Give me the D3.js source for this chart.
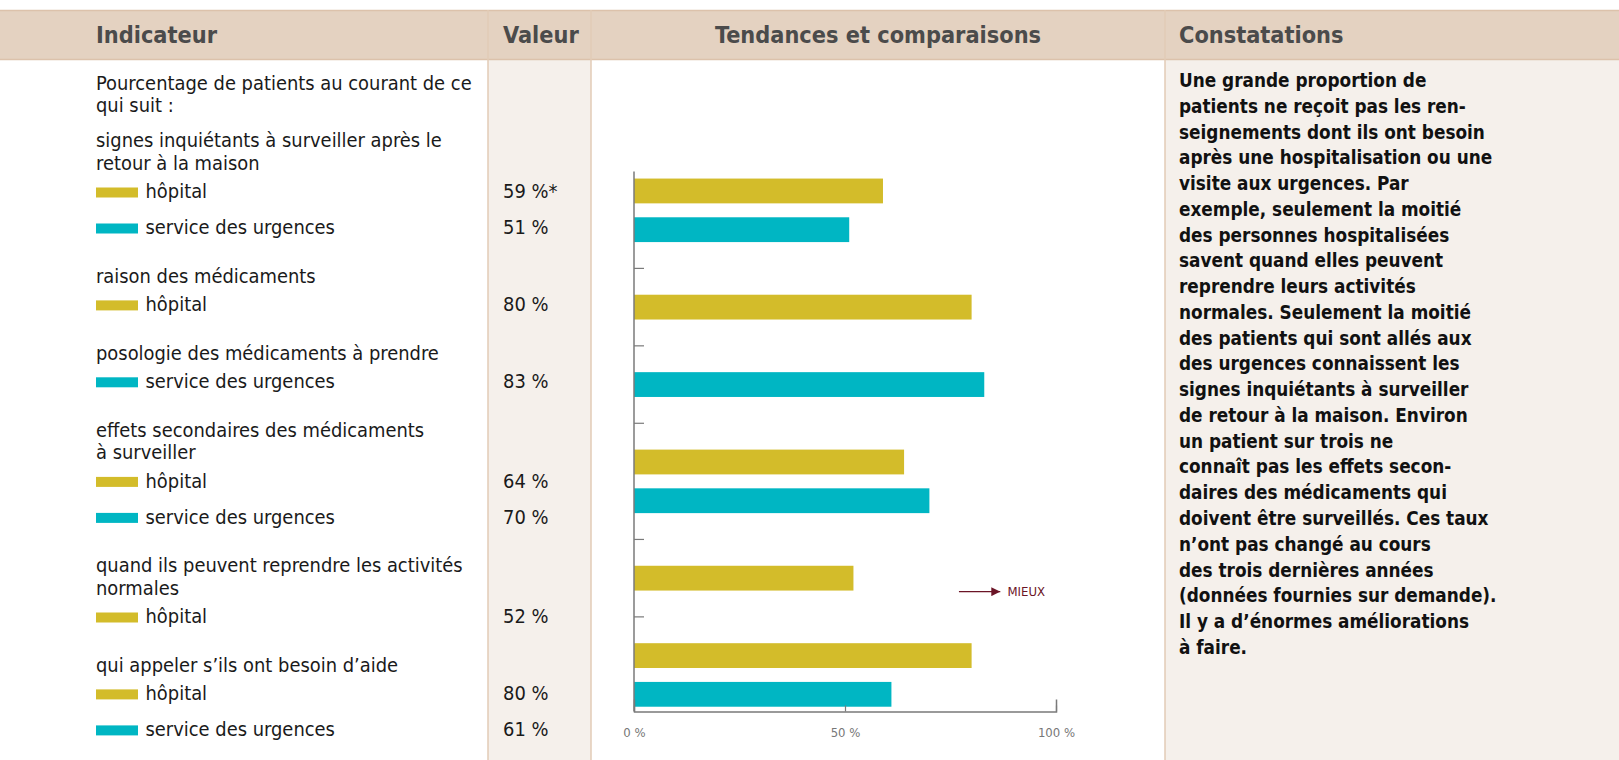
<!DOCTYPE html>
<html>
<head>
<meta charset="utf-8">
<script src="https://cdn.jsdelivr.net/npm/d3@7"></script>
<style>
  body { margin: 0; background: #fff; }
  svg { display: block; }
  text { font-family: "Liberation Sans Narrow", "DejaVu Sans Condensed", "Roboto", sans-serif; }
</style>
</head>
<body>
<svg id="chart" width="1619" height="760"></svg>
<script>
// données
const intro = ["Pourcentage de patients au courant de ce", "qui suit :"];
const indicateurs = [
  ["signes inquiétants à surveiller après le", "retour à la maison"],
  ["raison des médicaments"],
  ["posologie des médicaments à prendre"],
  ["effets secondaires des médicaments", "à surveiller"],
  ["quand ils peuvent reprendre les activités", "normales"],
  ["qui appeler s’ils ont besoin d’aide"]
];
const hopital = [59, 80, null, 64, 52, 80];
const urgences = [51, null, 83, 70, null, 61];
const notesHopital = ["*", "", "", "", "", ""];
const series = ["hôpital", "service des urgences"];
const couleurs = ["#d3bc2a", "#00b6c3"];
const ticksX = [0, 50, 100];
const entetes = ["Indicateur", "Valeur", "Tendances et comparaisons", "Constatations"];
const constatations = [
  "Une grande proportion de",
  "patients ne reçoit pas les ren-",
  "seignements dont ils ont besoin",
  "après une hospitalisation ou une",
  "visite aux urgences. Par",
  "exemple, seulement la moitié",
  "des personnes hospitalisées",
  "savent quand elles peuvent",
  "reprendre leurs activités",
  "normales. Seulement la moitié",
  "des patients qui sont allés aux",
  "des urgences connaissent les",
  "signes inquiétants à surveiller",
  "de retour à la maison. Environ",
  "un patient sur trois ne",
  "connaît pas les effets secon-",
  "daires des médicaments qui",
  "doivent être surveillés. Ces taux",
  "n’ont pas changé au cours",
  "des trois dernières années",
  "(données fournies sur demande).",
  "Il y a d’énormes améliorations",
  "à faire."
];

const W = 1619, H = 760;
const svg = d3.select("#chart");

// colonnes
const colX = [0, 488, 591, 1165, W];
const headTop = 10, headBottom = 60;

// fonds des colonnes
const fonds = ["#ffffff", "#f5f0eb", "#ffffff", "#f5f0eb"];
svg.selectAll("rect.col")
  .data(fonds)
  .enter()
  .append("rect")
  .attr("class", "col")
  .attr("x", (d, i) => colX[i])
  .attr("y", headBottom)
  .attr("width", (d, i) => colX[i + 1] - colX[i])
  .attr("height", H - headBottom)
  .attr("fill", d => d);

// en-tête
svg.append("rect")
  .attr("x", 0).attr("y", headTop)
  .attr("width", W).attr("height", headBottom - headTop)
  .attr("fill", "#e4d2c1");
svg.append("line")
  .attr("x1", 0).attr("x2", W)
  .attr("y1", headTop + 0.5).attr("y2", headTop + 0.5)
  .attr("stroke", "#dcc2ab").attr("stroke-width", 1.5);
svg.append("line")
  .attr("x1", 0).attr("x2", W)
  .attr("y1", headBottom - 0.5).attr("y2", headBottom - 0.5)
  .attr("stroke", "#dcc2ab").attr("stroke-width", 1.5);

// séparateurs de colonnes
svg.selectAll("line.sep")
  .data(colX.slice(1, 4))
  .enter()
  .append("line")
  .attr("class", "sep")
  .attr("x1", d => d).attr("x2", d => d)
  .attr("y1", headTop).attr("y2", H)
  .attr("stroke", "#e2cbb6")
  .attr("stroke-width", 1.5);

const headX = [96, 503, (colX[2] + colX[3]) / 2, 1179];
svg.selectAll("text.head")
  .data(entetes)
  .enter()
  .append("text")
  .attr("class", "head")
  .attr("x", (d, i) => headX[i])
  .attr("y", (headTop + headBottom) / 2)
  .attr("dy", "0.35em")
  .attr("text-anchor", (d, i) => i === 2 ? "middle" : "start")
  .attr("font-size", 23.3)
  .attr("font-weight", "bold")
  .attr("fill", "#4b4b4b")
  .text(d => d);

// colonne Indicateur : mise en page du texte
const lineH = 22.7;
const lignes = [];
let y = 82.6;
intro.forEach(t => {
  lignes.push({ type: "titre", texte: t, y: y });
  y += lineH;
});
y += 35.1 - lineH;
indicateurs.forEach((lbl, i) => {
  if (i > 0) y += 48.5 - 36;
  lbl.forEach((t, j) => {
    if (j > 0) y += lineH;
    lignes.push({ type: "titre", texte: t, y: y });
  });
  y += 28.4;
  [hopital[i], urgences[i]].forEach((v, s) => {
    if (v == null) return;
    lignes.push({
      type: "serie", serie: s, texte: series[s], y: y,
      valeur: v + " %" + (s === 0 ? notesHopital[i] : "")
    });
    y += 36;
  });
});

const textX = 96;
svg.selectAll("text.ind")
  .data(lignes)
  .enter()
  .append("text")
  .attr("class", "ind")
  .attr("x", d => d.type === "serie" ? textX + 49.5 : textX)
  .attr("y", d => d.y)
  .attr("dy", "0.35em")
  .attr("font-size", 19.9)
  .attr("fill", "#1a1a1a")
  .text(d => d.texte);

const lignesSerie = lignes.filter(d => d.type === "serie");
svg.selectAll("rect.swatch")
  .data(lignesSerie)
  .enter()
  .append("rect")
  .attr("class", "swatch")
  .attr("x", textX)
  .attr("y", d => d.y - 4)
  .attr("width", 42)
  .attr("height", 10)
  .attr("fill", d => couleurs[d.serie]);

svg.selectAll("text.val")
  .data(lignesSerie)
  .enter()
  .append("text")
  .attr("class", "val")
  .attr("x", 503)
  .attr("y", d => d.y)
  .attr("dy", "0.35em")
  .attr("font-size", 19.9)
  .attr("fill", "#1a1a1a")
  .text(d => d.valeur);

// graphique à barres
const slots = [];
indicateurs.forEach((lbl, i) => {
  if (i > 0) slots.push({ sep: true });
  if (hopital[i] != null) slots.push({ serie: 0, valeur: hopital[i] });
  if (urgences[i] != null) slots.push({ serie: 1, valeur: urgences[i] });
});
slots.forEach((d, i) => { d.i = i; });

const x = d3.scaleLinear().domain([0, 100]).range([634, 1056]);
const yBand = d3.scaleBand()
  .domain(d3.range(slots.length))
  .range([171.6, 171.6 + slots.length * 38.72])
  .padding(0);
const barH = 24.8;
const axisY = 711.5;

const chart = svg.append("g");

chart.selectAll("rect.bar")
  .data(slots.filter(d => !d.sep))
  .enter()
  .append("rect")
  .attr("class", "bar")
  .attr("x", x(0))
  .attr("y", d => yBand(d.i) + yBand.bandwidth() / 2 - barH / 2)
  .attr("width", d => x(d.valeur) - x(0))
  .attr("height", barH)
  .attr("fill", d => couleurs[d.serie]);

// axe vertical et repères entre groupes
chart.append("line")
  .attr("x1", x(0)).attr("x2", x(0))
  .attr("y1", yBand.range()[0]).attr("y2", axisY)
  .attr("stroke", "#7a7a7a").attr("stroke-width", 1.5);

chart.selectAll("line.sepTick")
  .data(slots.filter(d => d.sep))
  .enter()
  .append("line")
  .attr("class", "sepTick")
  .attr("x1", x(0)).attr("x2", x(0) + 10)
  .attr("y1", d => yBand(d.i) + yBand.bandwidth() / 2)
  .attr("y2", d => yBand(d.i) + yBand.bandwidth() / 2)
  .attr("stroke", "#7a7a7a").attr("stroke-width", 1.2);

// axe horizontal
const xAxis = d3.axisBottom(x)
  .tickValues(ticksX)
  .tickSizeInner(-6)
  .tickSizeOuter(-12)
  .tickPadding(16)
  .tickFormat(d => d + " %");

const gx = chart.append("g")
  .attr("transform", `translate(0,${axisY})`)
  .call(xAxis);
gx.select(".domain").attr("stroke", "#7a7a7a").attr("stroke-width", 1.5);
gx.selectAll(".tick line").attr("stroke", "#7a7a7a").attr("stroke-width", 1.2);
gx.selectAll(".tick text")
  .attr("font-family", null)
  .attr("font-size", 13)
  .attr("fill", "#777");

// flèche « MIEUX »
const mieuxY = yBand(10) + yBand.bandwidth() / 2 + 13.5;
svg.append("defs").append("marker")
  .attr("id", "fleche")
  .attr("viewBox", "0 0 10 10")
  .attr("refX", 10).attr("refY", 5)
  .attr("markerWidth", 9).attr("markerHeight", 9)
  .attr("markerUnits", "userSpaceOnUse")
  .attr("orient", "auto")
  .append("path")
  .attr("d", "M0,0 L10,5 L0,10 Z")
  .attr("fill", "#6b1426");
chart.append("line")
  .attr("x1", x(77)).attr("x2", x(86.8))
  .attr("y1", mieuxY).attr("y2", mieuxY)
  .attr("stroke", "#6b1426").attr("stroke-width", 1.3)
  .attr("marker-end", "url(#fleche)");
chart.append("text")
  .attr("x", x(88.5))
  .attr("y", mieuxY)
  .attr("dy", "0.35em")
  .attr("font-size", 13)
  .attr("fill", "#6b1426")
  .text("MIEUX");

// constatations
svg.selectAll("text.const")
  .data(constatations)
  .enter()
  .append("text")
  .attr("class", "const")
  .attr("x", 1179)
  .attr("y", (d, i) => 80.5 + i * 25.76)
  .attr("dy", "0.35em")
  .attr("font-size", 18.8)
  .attr("font-weight", "bold")
  .attr("fill", "#111")
  .text(d => d);
</script>
</body>
</html>
